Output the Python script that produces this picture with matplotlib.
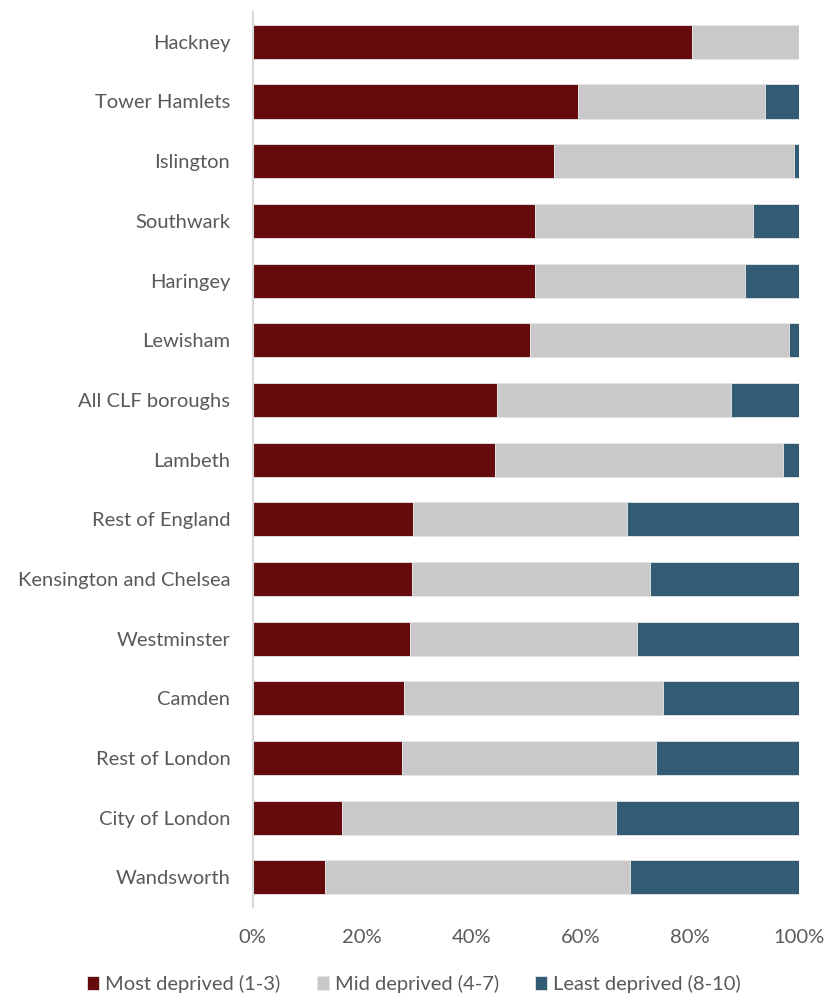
import matplotlib
matplotlib.use("Agg")
import matplotlib.pyplot as plt
import numpy as np
from matplotlib.ticker import PercentFormatter

plt.rcParams['font.family'] = ['Lato', 'DejaVu Sans']

# data, top to bottom
boroughs = ["Hackney", "Tower Hamlets", "Islington", "Southwark", "Haringey",
            "Lewisham", "All CLF boroughs", "Lambeth", "Rest of England",
            "Kensington and Chelsea", "Westminster", "Camden", "Rest of London",
            "City of London", "Wandsworth"]
most_deprived = [80.5, 59.6, 55.2, 51.7, 51.7, 50.8, 44.8, 44.3, 29.3,
                 29.1, 28.8, 27.7, 27.3, 16.4, 13.3]
mid_deprived = [19.5, 34.2, 43.9, 39.8, 38.5, 47.4, 42.8, 52.8, 39.2,
                43.6, 41.5, 47.4, 46.5, 50.1, 55.8]
least_deprived = [0.0, 6.2, 0.9, 8.5, 9.8, 1.8, 12.4, 2.9, 31.5,
                  27.3, 29.7, 24.9, 26.2, 33.5, 30.9]

series = [("Most deprived (1-3)", most_deprived, "#650b0d"),
          ("Mid deprived (4-7)", mid_deprived, "#c9c9c9"),
          ("Least deprived (8-10)", least_deprived, "#335b73")]

fig = plt.figure(figsize=(8.28, 9.97), dpi=100)
ax = fig.add_axes([0.305, 0.09, 0.66, 0.898])

y = np.arange(len(boroughs))
left = np.zeros(len(boroughs))
for label, vals, col in series:
    vals = np.array(vals)
    ax.barh(y, vals, left=left, height=0.57, color=col, label=label,
            edgecolor="#e6e6e6", linewidth=0.6)
    left += vals

ax.set_ylim(len(boroughs) - 0.5, -0.5)
ax.set_xlim(0, 100)
ax.set_yticks(y)
ax.set_yticklabels(boroughs)
ax.set_xticks([0, 20, 40, 60, 80, 100])
ax.xaxis.set_major_formatter(PercentFormatter(decimals=0))
ax.tick_params(axis="both", length=0, labelsize=14.5, colors="#595959")
ax.tick_params(axis="x", pad=16)
ax.tick_params(axis="y", pad=16)

for s in ["top", "right", "bottom"]:
    ax.spines[s].set_visible(False)
ax.spines["left"].set_color("#d9d9d9")
ax.spines["left"].set_linewidth(1.5)

fig.legend(loc="center", bbox_to_anchor=(0.5, 0.013), ncol=3,
           frameon=False, fontsize=14.5, handlelength=0.6, handleheight=0.7,
           handletextpad=0.3, columnspacing=1.8, labelcolor="#595959",
           borderaxespad=0, borderpad=0)

fig.savefig("out.png", dpi=100)
